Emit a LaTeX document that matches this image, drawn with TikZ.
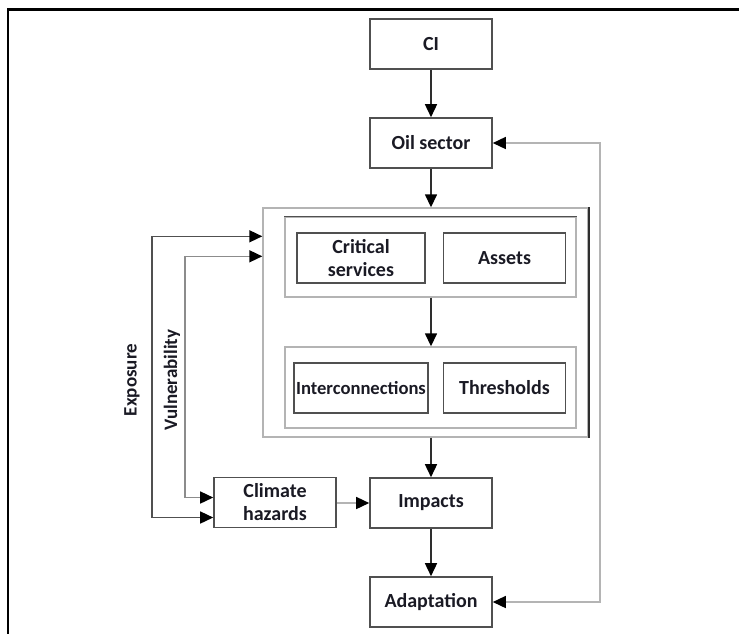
\documentclass[tikz,border=0pt]{standalone}
\usepackage{fontspec}
\setmainfont{Carlito}
\usetikzlibrary{arrows.meta,calc}

\definecolor{boxline}{HTML}{505050}
\definecolor{darkline}{HTML}{2E2E2E}
\definecolor{lightline}{HTML}{B4B4B4}
\definecolor{midline}{HTML}{8C8C8C}
\definecolor{inktext}{HTML}{1A1A24}

\tikzset{
  blk/.style={draw=boxline,line width=0.8pt,minimum width=61pt,minimum height=25pt,
    inner sep=1pt,align=center,font=\bfseries\fontsize{10}{11.5}\selectfont,text=inktext},
  grp/.style={draw=lightline,line width=0.7pt,inner sep=0pt},
  arr/.style={->,draw=darkline,line width=0.75pt},
  sidelbl/.style={rotate=90,font=\bfseries\fontsize{9.5}{11}\selectfont,text=inktext},
}

\begin{document}
\begin{tikzpicture}[x=0.5pt,y=-0.5pt,>={Triangle[length=6.5pt,width=6pt,color=black]}]
\useasboundingbox (0,0) rectangle (739,634);

% Frame
\draw[line width=1.5pt] (7,9) -- (739,9);
\draw[line width=1pt] (8,8) -- (8,634);

% Top chain
\node[blk] (ci) at (431,44) {CI};
\node[blk] (oil) at (431,143) {Oil sector};

% System box with its two groups
\node[grp,minimum width=162.5pt,minimum height=114.5pt] (outer) at (425.5,322.5) {};
\draw[darkline,line width=0.8pt] (outer.north east) -- (outer.south east);
\node[grp,minimum width=145.5pt,minimum height=40pt] (grpa) at (430.5,257) {};
\draw[boxline,line width=0.8pt] (grpa.north west) -- (grpa.north east);
\node[grp,minimum width=145.5pt,minimum height=40.5pt] (grpb) at (430.5,387.5) {};

\node[blk,minimum width=64pt] (crit) at (361,258) {Critical\\services};
\node[blk] (assets) at (504.5,258) {Assets};
\node[blk,minimum width=64pt,font=\bfseries\fontsize{9.3}{11}\selectfont] (inter) at (361,388) {Interconnections};
\node[blk] (thresh) at (504.5,388) {Thresholds};

% Lower chain
\node[blk] (climate) at (275,502.5) {Climate\\hazards};
\node[blk] (impacts) at (431,503) {Impacts};
\node[blk] (adapt) at (431,602) {Adaptation};

% Side labels
\node[sidelbl] (expolbl) at (132,380) {Exposure};
\node[sidelbl] (vulnlbl) at (172,380) {Vulnerability};

% Main arrows
\draw[arr] (ci) -- (oil);
\draw[arr] (oil.south) -- (oil.south |- outer.north);
\draw[arr] (oil.south |- grpa.south) -- (oil.south |- grpb.north);
\draw[arr] (impacts.north |- outer.south) -- (impacts.north);
\draw[arr] (impacts) -- (adapt);
\draw[->,draw=lightline,line width=0.75pt] (climate.east |- impacts.west) -- (impacts.west);

% Feedback and side loops
\draw[<->,draw=lightline,line width=0.75pt] (adapt.east) -- ++(107,0) |- (oil.east);
\draw[<->,draw=boxline,line width=0.75pt] ($(climate.west)+(0,15)$) -- ++(-61,0) |- ($(outer.north west)+(0,29)$);
\draw[<->,draw=midline,line width=0.75pt] ($(climate.west)+(0,-5)$) -- ++(-28,0) |- ($(outer.north west)+(0,49)$);

\end{tikzpicture}
\end{document}
